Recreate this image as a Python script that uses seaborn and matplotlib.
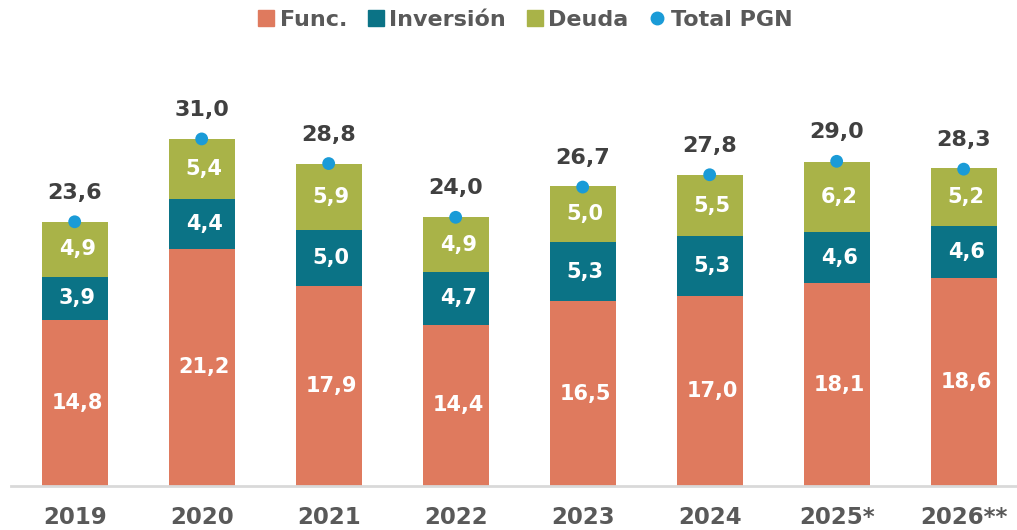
import pandas as pd
import matplotlib
matplotlib.use("Agg")
import matplotlib.pyplot as plt
from matplotlib.lines import Line2D
import seaborn as sns

# Data (billones)
years = ["2019", "2020", "2021", "2022", "2023", "2024", "2025*", "2026**"]
func = [14.8, 21.2, 17.9, 14.4, 16.5, 17.0, 18.1, 18.6]
inversion = [3.9, 4.4, 5.0, 4.7, 5.3, 5.3, 4.6, 4.6]
deuda = [4.9, 5.4, 5.9, 4.9, 5.0, 5.5, 6.2, 5.2]
total = [23.6, 31.0, 28.8, 24.0, 26.7, 27.8, 29.0, 28.3]

c_func = "#DF7A5E"
c_inv = "#0B7386"
c_deuda = "#A9B348"
c_total = "#1A9BD7"
c_text = "#595959"

df = pd.DataFrame({"year": years, "func": func, "inv": inversion, "deuda": deuda, "total": total})
df["func_inv"] = df["func"] + df["inv"]
df["stack"] = df["func_inv"] + df["deuda"]

sns.set_style("white")
plt.rcParams["font.family"] = ["DejaVu Sans"]
plt.rcParams["font.weight"] = "bold"

fig = plt.figure(figsize=(10.17, 5.30), dpi=100)
ax = fig.add_axes([0.011, 0.083, 0.989, 0.845])

w = 0.52
# stacked bars drawn as overlapping cumulative layers
sns.barplot(data=df, x="year", y="stack", color=c_deuda, width=w, saturation=1, linewidth=0, ax=ax)
sns.barplot(data=df, x="year", y="func_inv", color=c_inv, width=w, saturation=1, linewidth=0, ax=ax)
sns.barplot(data=df, x="year", y="func", color=c_func, width=w, saturation=1, linewidth=0, ax=ax)
sns.scatterplot(data=df, x="year", y="total", color=c_total, s=85, edgecolor="none", zorder=5, ax=ax)

# segment labels
for i in range(len(years)):
    bottoms = [0, func[i], func[i] + inversion[i]]
    for b, v in zip(bottoms, [func[i], inversion[i], deuda[i]]):
        ax.text(i + 0.02, b + v / 2, f"{v:.1f}".replace(".", ","), ha="center", va="center",
                color="white", fontsize=15, fontweight="bold")
    ax.annotate(f"{total[i]:.1f}".replace(".", ","), (i, total[i]), xytext=(0, 16.5),
                textcoords="offset points", ha="center", va="baseline",
                color="#404040", fontsize=16, fontweight="bold")

ax.set_xlim(-0.5, 7.42)
ax.set_ylim(0, 40)
ax.set_xlabel("")
ax.set_ylabel("")
ax.set_yticks([])
ax.tick_params(axis="x", length=0, pad=14.5, labelsize=16.5, labelcolor=c_text)
for lbl in ax.get_xticklabels():
    lbl.set_fontweight("bold")
for s in ["top", "right", "left"]:
    ax.spines[s].set_visible(False)
ax.spines["bottom"].set_color("#D9D9D9")
ax.spines["bottom"].set_linewidth(2)

handles = [
    Line2D([], [], marker="s", linestyle="none", color=c_func, markersize=12, label="Func."),
    Line2D([], [], marker="s", linestyle="none", color=c_inv, markersize=12, label="Inversión"),
    Line2D([], [], marker="s", linestyle="none", color=c_deuda, markersize=12, label="Deuda"),
    Line2D([], [], marker="o", linestyle="none", color=c_total, markersize=9, label="Total PGN"),
]
leg = fig.legend(handles=handles, loc="center", bbox_to_anchor=(0.515, 0.962), ncol=4,
                 frameon=False, handletextpad=0.1, columnspacing=0.8, handlelength=1.0,
                 prop={"size": 16, "weight": "bold"})
for t in leg.get_texts():
    t.set_color(c_text)

fig.savefig("out.png", dpi=100)
